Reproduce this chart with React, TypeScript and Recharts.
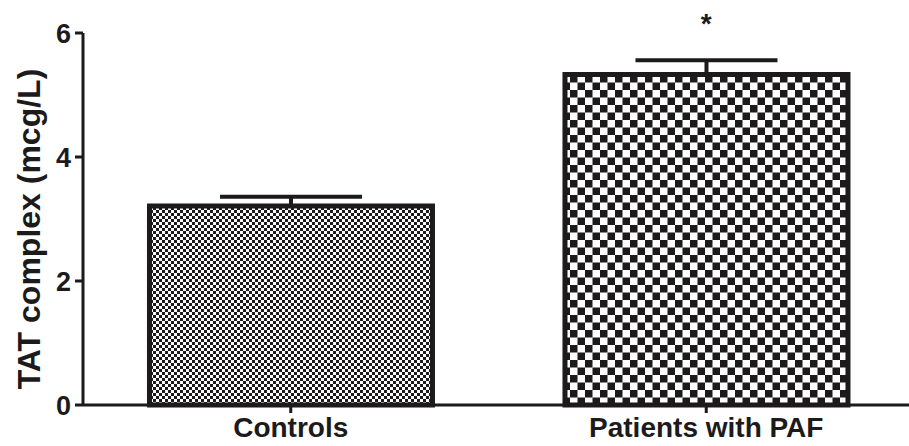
import React from 'react';
import {
  BarChart,
  Bar,
  XAxis,
  YAxis,
  ErrorBar,
  ReferenceDot,
  Cell,
} from 'recharts';

const groups = ['Controls', 'Patients with PAF'];
const means = [3.21, 5.33];
const sems = [0.15, 0.23];
const marks = ['', '*'];
const yTicks = [0, 2, 4, 6];

const data = groups.map((g, i) => ({
  group: g,
  mean: means[i],
  err: [0, sems[i]],
  top: means[i] + sems[i],
  mark: marks[i],
}));

const patterns = ['url(#fineCheck)', 'url(#coarseCheck)'];
const font = '"Liberation Sans", Arial, sans-serif';
const ink = '#1c1a1b';

const YLabel = (props: any) => {
  const { viewBox } = props;
  const x = viewBox.x + 40;
  const y = viewBox.y + viewBox.height / 2 + 10;
  return (
    <text
      x={x}
      y={y}
      transform={`rotate(-90, ${x}, ${y})`}
      textAnchor="middle"
      fontFamily={font}
      fontWeight="bold"
      fontSize={32}
      fill={ink}
    >
      TAT complex (mcg/L)
    </text>
  );
};

export default function App() {
  return (
    <div style={{ position: 'absolute', left: 0, top: 0, width: 909, height: 446, overflow: 'hidden', background: '#fff' }}>
      <BarChart
        width={920}
        height={446}
        data={data}
        margin={{ top: 33, right: 6, bottom: 0, left: 0 }}
        barCategoryGap="16%"
      >
        <defs>
          <pattern id="fineCheck" width={6} height={6} patternUnits="userSpaceOnUse">
            <rect width={6} height={6} fill="#fff" />
            <rect x={0} y={0} width={3} height={3} fill={ink} />
            <rect x={3} y={3} width={3} height={3} fill={ink} />
          </pattern>
          <pattern id="coarseCheck" width={15} height={15} patternUnits="userSpaceOnUse">
            <rect width={15} height={15} fill="#fff" />
            <rect x={0} y={0} width={7.5} height={7.5} fill={ink} />
            <rect x={7.5} y={7.5} width={7.5} height={7.5} fill={ink} />
          </pattern>
        </defs>
        <XAxis
          dataKey="group"
          height={41}
          axisLine={{ stroke: ink, strokeWidth: 3 }}
          tickLine={{ stroke: ink, strokeWidth: 3 }}
          tickSize={8}
          tickMargin={4}
          tick={{ fill: ink, fontSize: 28, fontWeight: 'bold', fontFamily: font }}
        />
        <YAxis
          width={83}
          domain={[0, 6]}
          ticks={yTicks}
          axisLine={{ stroke: ink, strokeWidth: 3 }}
          tickLine={{ stroke: ink, strokeWidth: 3 }}
          tickSize={8}
          tickMargin={4}
          tick={{ fill: ink, fontSize: 27, fontWeight: 'bold', fontFamily: font }}
          label={<YLabel />}
        />
        <Bar dataKey="mean" stroke={ink} strokeWidth={5} isAnimationActive={false}>
          {data.map((d, i) => (
            <Cell key={d.group} fill={patterns[i]} />
          ))}
          <ErrorBar dataKey="err" width={71} stroke={ink} strokeWidth={4} direction="y" />
        </Bar>
        {data
          .filter((d) => d.mark)
          .map((d) => (
            <ReferenceDot
              key={d.group}
              x={d.group}
              y={d.top}
              r={0}
              ifOverflow="visible"
              label={{
                value: d.mark,
                position: 'top',
                offset: 27,
                fill: ink,
                fontSize: 28,
                fontWeight: 'bold',
                fontFamily: font,
              }}
            />
          ))}
      </BarChart>
    </div>
  );
}
